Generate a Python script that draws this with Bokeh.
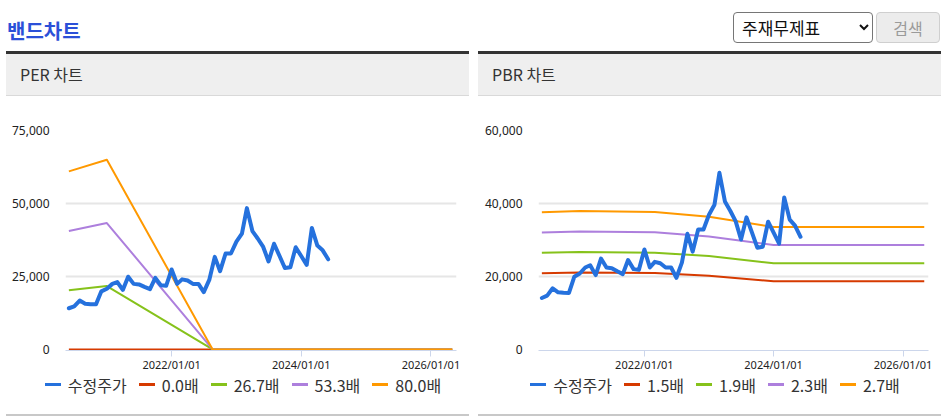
import pandas as pd
from bokeh.plotting import figure
from bokeh.models import (Div, Spacer, Range1d, FixedTicker, NumeralTickFormatter,
                          DatetimeTickFormatter)
from bokeh.layouts import column, row
from bokeh.embed import file_html
from bokeh.resources import INLINE

# ---------------- data ----------------
page_title = "밴드차트"
select_label = "주재무제표"
button_label = "검색"

price_label = "수정주가"
price_start = "2020-06-01"          # monthly series
price = [14100, 14750, 16750, 15650, 15500, 15470, 19900, 20800, 22450, 23080,
         20360, 24900, 22450, 22260, 21400, 20630, 24500, 22000, 21800, 27400,
         22450, 24000, 23600, 22450, 22450, 19630, 23800, 31700, 26800, 32850,
         32850, 36900, 39640, 48400, 40540, 38000, 35100, 30130, 36200, 32000,
         27880, 28150, 35000, 32000, 28970, 41620, 35570, 33940, 30870]

per_title = "PER 차트"
per_labels = ["0.0배", "26.7배", "53.3배", "80.0배"]
per_band_dates = ["2020-06-01", "2021-01-01", "2022-08-20", "2026-05-01"]
per_band_00 = [0, 0, 0, 0]
per_band_267 = [20300, 21700, 0, 0]
per_band_533 = [40600, 43300, 0, 0]
per_band_800 = [61000, 65000, 0, 0]
per_yticks = [0, 25000, 50000, 75000]

pbr_title = "PBR 차트"
pbr_labels = ["1.5배", "1.9배", "2.3배", "2.7배"]
pbr_band_dates = ["2020-06-01", "2021-01-01", "2022-03-01", "2023-01-01", "2024-01-01", "2026-05-01"]
pbr_band_15 = [20900, 21080, 20930, 20190, 18650, 18650]
pbr_band_19 = [26470, 26700, 26500, 25570, 23620, 23620]
pbr_band_23 = [32040, 32320, 32090, 30960, 28590, 28590]
pbr_band_27 = [37610, 37940, 37670, 36340, 33560, 33560]
pbr_yticks = [0, 20000, 40000, 60000]

x_tick_labels = ["2022/01/01", "2024/01/01", "2026/01/01"]
x_start, x_end = "2020-05-13", "2026-05-25"

# ---------------- style ----------------
PRICE_COLOR = "#2571dd"
BAND_COLORS = ["#d63a00", "#86c21b", "#ad7fdd", "#ff9900"]
FONT_KR = "Noto Sans CJK KR"
FONT_NUM = "Noto Sans"

price_dates = pd.date_range(price_start, periods=len(price), freq="MS")


def legend_div(labels, colors):
    items = ""
    for lbl, col in zip(labels, colors):
        items += (f'<span style="display:inline-flex;align-items:center;margin:0 6px;white-space:nowrap">'
                  f'<span style="display:inline-block;width:16px;height:3px;background:{col};'
                  f'margin-right:7px"></span>{lbl}</span>')
    html = (f'<div style="position:relative;top:-4px;display:flex;justify-content:center;'
            f'align-items:center;width:463px;height:20px;padding-left:11px;box-sizing:border-box;'
            f'font-family:\'{FONT_KR}\';font-size:16px;color:#333;line-height:20px">{items}</div>')
    return Div(text=html, width=463, height=20, margin=0)


def make_panel(title, bands, band_dates, band_labels, yticks, border_left):
    ymax = yticks[-1]
    p = figure(width=463, height=282, x_axis_type="datetime",
               output_backend="svg", toolbar_location=None,
               x_range=Range1d(pd.Timestamp(x_start), pd.Timestamp(x_end)),
               y_range=Range1d(-ymax * 0.005, ymax),
               min_border_left=border_left, min_border_right=13,
               min_border_top=34, min_border_bottom=28)
    p.outline_line_color = None
    p.background_fill_color = "white"
    p.border_fill_color = "white"

    bd = pd.to_datetime(band_dates)
    for vals, col in zip(bands, BAND_COLORS):
        p.line(bd, vals, line_color=col, line_width=2, line_join="round")
    p.line(price_dates, price, line_color=PRICE_COLOR, line_width=4,
           line_join="round", line_cap="round")

    # axes
    tick_ms = [int(pd.Timestamp(s.replace("/", "-")).value // 10**6) for s in x_tick_labels]
    xa = p.xaxis[0]
    xa.ticker = FixedTicker(ticks=tick_ms)
    xa.formatter = DatetimeTickFormatter(years="%Y/%m/%d", months="%Y/%m/%d", days="%Y/%m/%d")
    xa.major_label_overrides = {t: s for t, s in zip(tick_ms, x_tick_labels)}
    xa.axis_line_color = "#ccd6eb"
    xa.major_tick_line_color = "#ccd6eb"
    xa.major_tick_in = 0
    xa.major_tick_out = 6
    xa.minor_tick_line_color = None
    xa.major_label_standoff = 0
    xa.major_label_text_font = FONT_NUM
    xa.major_label_text_font_size = "11px"
    xa.major_label_text_color = "#222222"

    ya = p.yaxis[0]
    ya.ticker = FixedTicker(ticks=yticks)
    ya.formatter = NumeralTickFormatter(format="0,0")
    ya.axis_line_color = None
    ya.major_tick_line_color = None
    ya.minor_tick_line_color = None
    ya.major_label_standoff = 10
    ya.major_label_text_font = FONT_NUM
    ya.major_label_text_font_size = "12px"
    ya.major_label_text_color = "#222222"

    p.xgrid.grid_line_color = None
    p.ygrid.grid_line_color = "#e6e6e6"
    p.ygrid.grid_line_width = 2
    p.ygrid.ticker = FixedTicker(ticks=[t for t in yticks if t > 0])

    header = Div(text=(
        f'<div style="box-sizing:border-box;width:463px;height:45px;border-top:3px solid #333;'
        f'border-bottom:1px solid #d9d9d9;background:#efefef;padding-left:14px;'
        f"font-family:'{FONT_KR}';font-size:16px;color:#333;line-height:40px;\">{title}</div>"),
        width=463, height=45, margin=0)
    leg = legend_div([price_label] + band_labels, [PRICE_COLOR] + BAND_COLORS)
    bottom = Div(text='<div style="width:463px;height:2px;background:#c8c8c8"></div>',
                 width=463, height=2, margin=0)
    return column(header, p, leg, Spacer(height=6), bottom, spacing=0)


left = make_panel(per_title, [per_band_00, per_band_267, per_band_533, per_band_800],
                  per_band_dates, per_labels, per_yticks, 59)
right = make_panel(pbr_title, [pbr_band_15, pbr_band_19, pbr_band_23, pbr_band_27],
                   pbr_band_dates, pbr_labels, pbr_yticks, 60)

top = Div(text=(
    f"<div style=\"position:relative;width:947px;height:51px;font-family:'{FONT_KR}'\">"
    f'<div style="position:absolute;left:7px;top:16px;font-size:20px;font-weight:bold;'
    f'color:#2b50d8;line-height:30px;white-space:nowrap">{page_title}</div>'
    f'<select style="position:absolute;left:733px;top:12px;width:140px;height:31px;'
    f"font-size:17px;font-family:'{FONT_KR}';border:1px solid #767676;border-radius:4px;"
    f'background:#fff;color:#111;padding:0 4px"><option>{select_label}</option></select>'
    f'<button disabled style="position:absolute;left:876px;top:12px;width:64px;height:31px;'
    f"font-size:16px;font-family:'{FONT_KR}';border:1px solid #cfcfcf;border-radius:4px;"
    f'background:#ececec;color:#9a9a9a">{button_label}</button>'
    f"</div>"),
    width=947, height=51, margin=0)

layout = column(top, row(Spacer(width=6), left, Spacer(width=9), right, spacing=0), spacing=0)

open("out.html", "w").write(file_html(layout, INLINE))
